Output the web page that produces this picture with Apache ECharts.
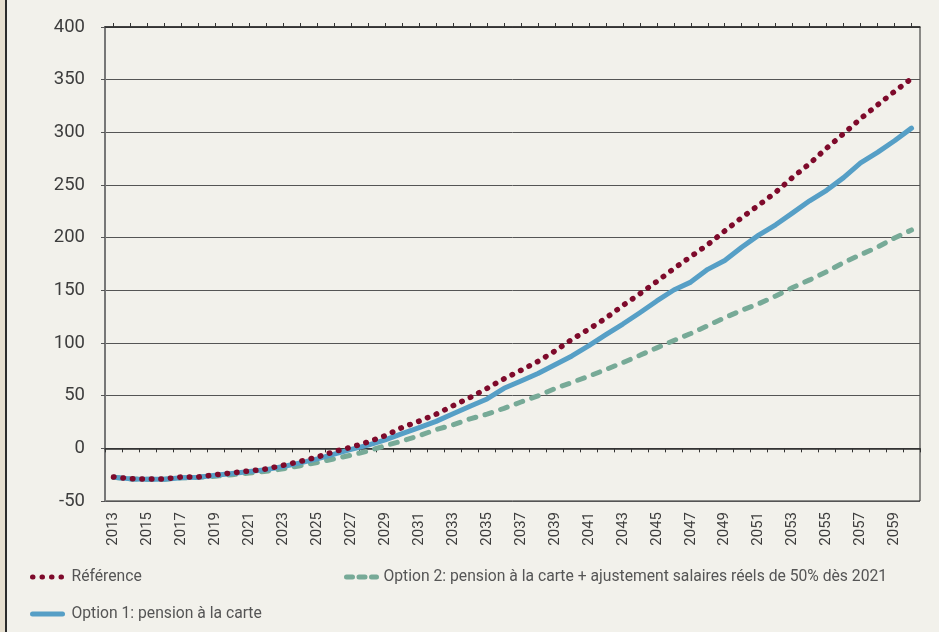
<!DOCTYPE html>
<html>
<head>
<meta charset="utf-8">
<script src="https://cdn.jsdelivr.net/npm/echarts@6/dist/echarts.min.js"></script>
<style>
  html, body { margin: 0; padding: 0; background: #f2f1eb; }
  #wrap { position: relative; width: 939px; height: 632px; background: #f2f1eb; overflow: hidden; }
  #chart { position: absolute; left: 0; top: 0; width: 939px; height: 632px; }
  .strip { position: absolute; top: 0; height: 632px; z-index: 2; }
</style>
</head>
<body>
<div id="wrap">
  <div id="chart"></div>
  <div class="strip" style="left:0;width:5px;background:#e6dfcf;"></div>
  <div class="strip" style="left:5px;width:2px;background:#2b2b2b;"></div>
</div>
<script>
// Years on the horizontal axis
const years = [];
for (let y = 2013; y <= 2060; y++) years.push(String(y));

// Series names
const nameRef = 'Référence';
const nameOpt1 = 'Option 1: pension à la carte';
const nameOpt2 = 'Option 2: pension à la carte + ajustement salaires réels de 50% dès 2021';

// Référence
const refValues = [
  -27.2, -28.9, -29.1, -29.0, -27.2, -27.2, -25.1, -23.3, -21.5, -19.6,
  -16.1, -12.4, -8.3, -3.1, 1.1, 6.1, 12.0, 19.8, 25.8, 32.4,
  40.5, 48.2, 56.9, 66.0, 74.1, 82.5, 92.4, 103.4, 113.2, 123.6,
  135.6, 146.7, 158.4, 170.6, 182.0, 193.4, 206.4, 219.0, 230.9, 243.1,
  257.3, 270.3, 285.0, 298.7, 313.0, 326.0, 338.8, 351.0
];

// Option 1
const opt1Values = [
  -27.5, -29.0, -29.3, -29.3, -28.0, -27.5, -25.5, -23.8, -22.0, -20.2,
  -17.3, -13.8, -10.0, -5.5, -1.0, 3.0, 8.0, 14.0, 19.6, 25.6,
  32.8, 40.0, 46.9, 57.0, 64.0, 71.0, 79.3, 87.7, 97.5, 108.0,
  118.0, 128.7, 139.9, 150.3, 157.8, 169.9, 178.4, 190.9, 202.4, 212.2,
  223.5, 235.0, 245.0, 257.0, 271.0, 281.0, 292.0, 304.0
];

// Option 2
const opt2Values = [
  -27.5, -29.0, -29.3, -29.3, -28.0, -27.5, -26.5, -25.0, -23.5, -21.8,
  -19.5, -16.5, -13.5, -10.0, -6.5, -2.5, 2.5, 7.0, 12.0, 17.8,
  22.3, 28.0, 32.4, 38.0, 44.0, 49.8, 56.7, 62.6, 68.5, 74.8,
  81.4, 88.3, 95.4, 102.4, 109.0, 116.5, 124.0, 131.0, 137.3, 144.6,
  152.7, 159.9, 167.7, 176.3, 183.8, 191.0, 199.7, 207.3
];

const colRef = '#7e0a2b';
const colOpt1 = '#569fc6';
const colOpt2 = '#77aa97';
const font = 'Roboto, "Noto Sans", sans-serif';
const textCol = '#3d3d3d';

const chart = echarts.init(document.getElementById('chart'), null, { renderer: 'canvas' });

// One legend entry per block so each can sit at its own place
function legendBlock(name, left, top, dash, padLeft) {
  return {
    data: [{ name: name }],
    left: left,
    top: top,
    orient: 'horizontal',
    selectedMode: false,
    itemWidth: 30,
    itemHeight: 14,
    itemStyle: { opacity: 0, borderWidth: 0 },
    lineStyle: { width: 5, type: dash, cap: 'round', opacity: 1 },
    textStyle: { fontFamily: font, fontSize: 15.7, color: '#555', padding: [0, 0, 0, padLeft] }
  };
}

chart.setOption({
  backgroundColor: '#f2f1eb',
  animation: false,
  grid: {
    left: 105, right: 19, top: 27, bottom: 131,
    show: true, borderColor: '#222', borderWidth: 1, backgroundColor: 'transparent'
  },
  legend: [
    legendBlock(nameRef, 25, 564, [0.5, 9], 4),
    legendBlock(nameOpt2, 339, 564, [6, 6.5], 2),
    legendBlock(nameOpt1, 25, 601, 'solid', 4)
  ],
  xAxis: [
    {
      type: 'category',
      data: years,
      position: 'bottom',
      boundaryGap: true,
      axisLine: { show: true, onZero: true, lineStyle: { color: '#2a2a2a', width: 1.5 } },
      axisTick: { show: true, interval: 0, length: 4, lineStyle: { color: '#333', width: 1 } },
      axisLabel: {
        rotate: 90, interval: 1, margin: 11,
        fontFamily: font, fontSize: 15, color: textCol
      },
      splitLine: { show: false }
    },
    {
      type: 'category',
      data: years,
      position: 'top',
      boundaryGap: true,
      axisLine: { show: true, onZero: true, lineStyle: { color: '#2a2a2a', width: 1.5 } },
      axisTick: { show: true, interval: 0, alignWithLabel: true, length: 4, lineStyle: { color: '#333', width: 1 } },
      axisLabel: { show: false },
      splitLine: { show: false }
    }
  ],
  yAxis: {
    type: 'value',
    min: -50, max: 400, interval: 50,
    axisLine: { show: true, lineStyle: { color: '#777', width: 2 } },
    axisTick: { show: true, length: 4, lineStyle: { color: '#555', width: 1 } },
    axisLabel: { margin: 20, fontFamily: font, fontSize: 18.5, color: textCol },
    splitLine: { show: true, lineStyle: { color: '#555', width: 1 } }
  },
  series: [
    {
      name: nameOpt2, type: 'line', data: opt2Values, xAxisIndex: 0,
      symbol: 'none', z: 2,
      lineStyle: { color: colOpt2, width: 5, type: [7, 9.5], cap: 'round' },
      itemStyle: { color: colOpt2 }
    },
    {
      name: nameOpt1, type: 'line', data: opt1Values, xAxisIndex: 0,
      symbol: 'none', z: 3,
      lineStyle: { color: colOpt1, width: 5, type: 'solid', cap: 'round', join: 'round' },
      itemStyle: { color: colOpt1 }
    },
    {
      name: nameRef, type: 'line', data: refValues, xAxisIndex: 0,
      symbol: 'none', z: 4,
      lineStyle: { color: colRef, width: 5.5, type: [0.5, 9], cap: 'round' },
      itemStyle: { color: colRef }
    }
  ]
});
</script>
</body>
</html>
